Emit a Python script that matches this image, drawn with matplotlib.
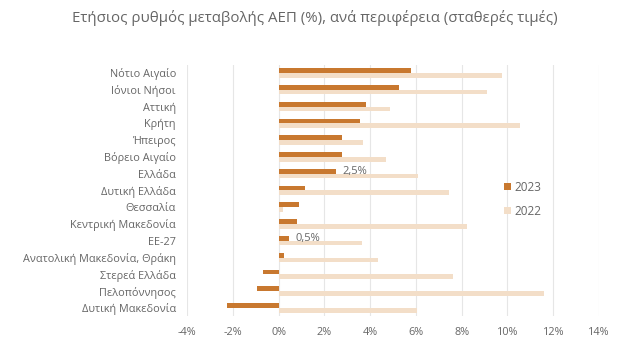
import matplotlib
matplotlib.use("Agg")
import matplotlib.pyplot as plt
import numpy as np

categories = ["Νότιο Αιγαίο", "Ιόνιοι Νήσοι", "Αττική", "Κρήτη", "Ήπειρος",
              "Βόρειο Αιγαίο", "Ελλάδα", "Δυτική Ελλάδα", "Θεσσαλία",
              "Κεντρική Μακεδονία", "ΕΕ-27", "Ανατολική Μακεδονία, Θράκη",
              "Στερεά Ελλάδα", "Πελοπόννησος", "Δυτική Μακεδονία"]
v2023 = [5.8, 5.25, 3.8, 3.55, 2.75, 2.75, 2.5, 1.15, 0.9, 0.8, 0.45, 0.25,
         -0.7, -0.95, -2.25]
v2022 = [9.75, 9.1, 4.85, 10.55, 3.7, 4.7, 6.1, 7.45, 0.2, 8.25, 3.65, 4.35,
         7.6, 11.6, 6.05]
labels_2023 = {"Ελλάδα": "2,5%", "ΕΕ-27": "0,5%"}
xticks = [-4, -2, 0, 2, 4, 6, 8, 10, 12, 14]
title = "Ετήσιος ρυθμός μεταβολής ΑΕΠ (%), ανά περιφέρεια (σταθερές τιμές)"

plt.rcParams['font.family'] = ['Open Sans', 'DejaVu Sans']
text_color = "#666666"
c2023 = "#C8782F"
c2022 = "#F3DEC8"

fig = plt.figure(figsize=(6.24, 3.51), dpi=100)
ax = fig.add_axes([0.2997, 0.099, 0.6603, 0.717])

y = np.arange(len(categories))
h = 0.28
ax.barh(y - h / 2, v2023, height=h, color=c2023, label="2023", zorder=3)
ax.barh(y + h / 2, v2022, height=h, color=c2022, label="2022", zorder=2)

for i, cat in enumerate(categories):
    if cat in labels_2023:
        ax.text(v2023[i] + 0.3, y[i] - h / 2, labels_2023[cat], va="center",
                ha="left", fontsize=8, color=text_color, zorder=4)

ax.set_xlim(-4, 14)
ax.set_ylim(len(categories) - 0.5, -0.5)
ax.set_xticks(xticks)
ax.set_xticklabels([f"{t}%" for t in xticks])
ax.set_yticks(y)
ax.set_yticklabels(categories)
ax.tick_params(axis="both", length=0, labelsize=7.8, colors=text_color)
ax.tick_params(axis="y", pad=8)
ax.tick_params(axis="x", pad=8)
ax.xaxis.grid(True, color="#E6E6E6", linewidth=0.8, zorder=0)
ax.set_axisbelow(True)
for s in ax.spines.values():
    s.set_visible(False)

leg = ax.legend(loc="center", bbox_to_anchor=(0.815, 0.465), frameon=False,
                fontsize=8.5, handlelength=0.6, handleheight=0.6,
                handletextpad=0.3, labelspacing=0.95)
for t in leg.get_texts():
    t.set_color(text_color)

fig.text(0.505, 0.948, title, ha="center", va="center", fontsize=10.8,
         color=text_color)

fig.savefig("out.png", dpi=100)
